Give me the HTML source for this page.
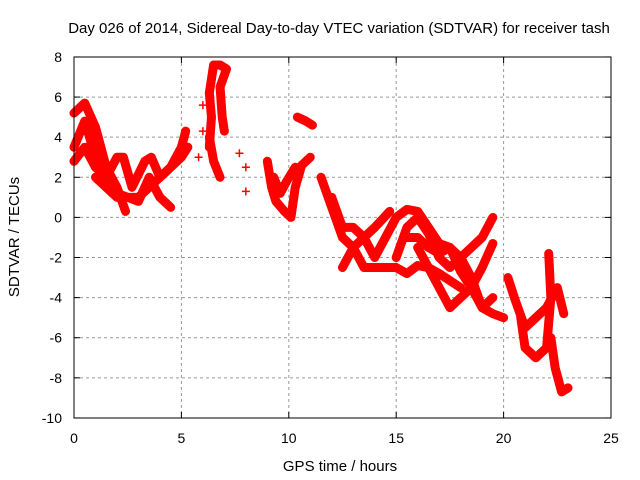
<!DOCTYPE html>
<html><head><meta charset="utf-8"><style>
body{margin:0;background:#fff}
svg{display:block;font-family:"Liberation Sans",sans-serif}
</style></head><body>
<svg id="chart" width="640" height="480">
<text x="339" y="33" font-size="15" text-anchor="middle">Day 026 of 2014, Sidereal Day-to-day VTEC variation (SDTVAR) for receiver tash</text>
<text x="340" y="471" font-size="15" text-anchor="middle">GPS time / hours</text>
<text transform="translate(19,237) rotate(-90)" font-size="15" text-anchor="middle">SDTVAR / TECUs</text>
<g id="grid"></g><g id="ticks"></g><g id="marks"></g>
<rect x="74" y="57" width="537" height="361" fill="none" stroke="#000" stroke-width="1"/>
</svg>
<script>
const xTicks=[0,5,10,15,20,25];
const yTicks=[-10,-8,-6,-4,-2,0,2,4,6,8];
const track1=[[0,5.2],[0.5,5.7],[1,4.5],[1.5,2.5],[2,1.5],[2.4,0.3]];
const track2=[[0,3.5],[0.5,4.8],[1,3],[1.5,1.8],[2,1.2],[3,0.8],[3.5,2],[4,1],[4.5,0.5]];
const track3=[[0,2.8],[0.5,3.5],[1,2.5],[1.5,2],[2,3],[2.3,3],[2.7,1.5],[3.3,2.8],[3.6,3],[4,2],[4.5,2.5],[5,3.5],[5.2,4.3]];
const track4=[[1,2],[2,1],[3,1],[4,2],[5,3],[5.3,3.5]];
const track5=[[6.3,3.5],[6.4,5],[6.3,6.2],[6.5,7.6],[6.8,7.6],[7.1,7.4],[6.8,6.5],[6.9,5],[7,4.3]];
const track6=[[6.3,4],[6.5,2.8],[6.8,2]];
const track7=[[9,2.8],[9.2,1.5],[9.4,0.8],[9.8,0.3],[10.1,0],[10.3,1.5],[10.6,2.6],[11,3]];
const track8=[[9.3,2],[9.6,1.2],[9.9,1.8],[10.3,2.5]];
const track9=[[10.4,5],[10.8,4.8],[11.1,4.6]];
const track10=[[11.5,2],[12,0.5],[12.5,-1],[13,-1.5],[13.5,-2.5],[14,-2.5],[15,-2.5],[15.5,-2.8],[16,-2.4],[16.5,-2.5],[17,-2.8],[18,-3.5]];
const track11=[[12,1],[12.5,-0.5],[13,-0.5],[13.5,-1],[14,-2],[14.5,-1],[15,0],[15.5,0.4],[16,0.3],[16.5,-0.5],[17,-1.3],[17.5,-1.5],[18,-2],[18.5,-3],[19,-4.5],[19.5,-4.8],[20,-5]];
const track12=[[12.5,-2.5],[13,-1.5],[13.5,-1],[14,-0.5],[14.7,0.3]];
const track13=[[15,-2],[15.5,-0.5],[16,0],[16.5,-0.8],[17,-2],[17.5,-2.5],[18,-2],[18.5,-1.5],[19,-1],[19.5,0]];
const track14=[[15.5,-1],[16,-1],[16.5,-1.5],[17,-1.8],[17.5,-1.5],[18,-2.7],[18.5,-3.5],[19,-4.5],[19.5,-4]];
const track15=[[16,-1.5],[17,-3.5],[17.5,-4.5],[18,-4],[18.5,-3.5],[19,-2.5],[19.5,-1.3]];
const track16=[[20.2,-3],[20.5,-4],[21,-5.5],[21.5,-5],[22,-4.5],[22.5,-3.5],[22.8,-4.8]];
const track17=[[20.8,-5],[21,-6.5],[21.5,-7],[22,-6.5],[22.2,-4],[22.1,-1.8]];
const track18=[[22.2,-6],[22.4,-7.5],[22.7,-8.7],[23,-8.5]];
const singles=[[6,5.6],[6,4.3],[7.7,3.2],[8,2.5],[8,1.3],[5.8,3]];
const tracks=[track1,track2,track3,track4,track5,track6,track7,track8,track9,track10,track11,track12,track13,track14,track15,track16,track17,track18];

const X=v=>74+v*(537/25);
const Y=v=>217.4-v*(361/18);
const NS='http://www.w3.org/2000/svg';
const grid=document.getElementById('grid'),ticks=document.getElementById('ticks'),marks=document.getElementById('marks');
function mk(t,a,p){const e=document.createElementNS(NS,t);for(const k in a)e.setAttribute(k,a[k]);p.appendChild(e);return e;}
xTicks.forEach(v=>{
  if(v>0&&v<25){const g=mk('line',{x1:X(v),x2:X(v),y1:57,y2:418,stroke:'#999','stroke-dasharray':'3,3'},grid);
  
  }
  mk('line',{x1:X(v),x2:X(v),y1:418,y2:412,stroke:'#000'},ticks);
  mk('line',{x1:X(v),x2:X(v),y1:57,y2:63,stroke:'#000'},ticks);
  const t=mk('text',{x:X(v),y:443,'font-size':14,'text-anchor':'middle'},ticks);t.textContent=v;
  
  
});
yTicks.forEach(v=>{
  if(v>-10&&v<8){const g=mk('line',{x1:74,x2:611,y1:Y(v),y2:Y(v),stroke:'#999','stroke-dasharray':'3,3'},grid);
  
  }
  mk('line',{x1:74,x2:80,y1:Y(v),y2:Y(v),stroke:'#000'},ticks);
  mk('line',{x1:611,x2:605,y1:Y(v),y2:Y(v),stroke:'#000'},ticks);
  const t=mk('text',{x:62,y:Y(v)+5,'font-size':14,'text-anchor':'end'},ticks);t.textContent=v;
  
  
});
function plus(x,y){mk('path',{d:`M${X(x)-4} ${Y(y)}h8M${X(x)} ${Y(y)-4}v8`,stroke:'#f00','stroke-width':1.5},marks);}
tracks.forEach((tr,i)=>{
  const p=mk('polyline',{points:tr.map(d=>X(d[0])+','+Y(d[1])).join(' '),fill:'none',stroke:'#f00','stroke-width':9,'stroke-linejoin':'round','stroke-linecap':'round'},marks);
  
  
  tr.forEach(d=>plus(d[0],d[1]));
});
singles.forEach(d=>plus(d[0],d[1]));
</script>
</body></html>
